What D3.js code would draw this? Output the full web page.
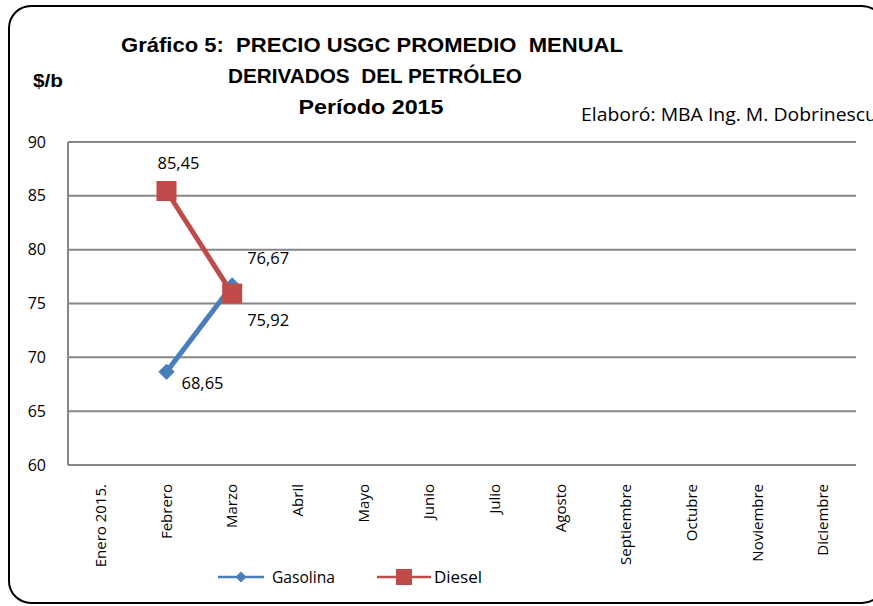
<!DOCTYPE html>
<html>
<head>
<meta charset="utf-8">
<script src="https://cdn.jsdelivr.net/npm/d3@7"></script>
<style>
  body { margin: 0; background: #fff; }
  svg { font-family: "Open Sans", "DejaVu Sans", sans-serif; }
  text { white-space: pre; }
</style>
</head>
<body>
<div id="chart"></div>
<script>
// data
const months = ["Enero 2015.", "Febrero", "Marzo", "Abril", "Mayo", "Junio", "Julio",
                "Agosto", "Septiembre", "Octubre", "Noviembre", "Diciembre"]
const gasolina = [null, 68.65, 76.67, null, null, null, null, null, null, null, null, null]
const diesel = [null, 85.45, 75.92, null, null, null, null, null, null, null, null, null]
const yTicks = [60, 65, 70, 75, 80, 85, 90]
const titleLines = ["Gráfico 5:  PRECIO USGC PROMEDIO  MENUAL", "DERIVADOS  DEL PETRÓLEO", "Período 2015"]

const w = 873
const h = 606
const margin = { left: 68, right: 17, top: 142, bottom: 141 }
const font = "'Open Sans', 'DejaVu Sans', sans-serif"

const svg = d3.select("#chart").append("svg")
  .attr("width", w)
  .attr("height", h)

// outer rounded frame
svg.append("rect")
  .attr("x", 9).attr("y", 6)
  .attr("width", 875).attr("height", 597)
  .attr("rx", 22)
  .attr("fill", "none")
  .attr("stroke", "#000")
  .attr("stroke-width", 2)

const xScale = d3.scaleBand()
  .domain(months)
  .range([margin.left, w - margin.right])

const yScale = d3.scaleLinear()
  .domain([60, 90])
  .range([h - margin.bottom, margin.top])

// horizontal grid lines
svg.append("g")
  .selectAll("line")
  .data(yTicks)
  .enter()
  .append("line")
  .attr("x1", margin.left)
  .attr("x2", w - margin.right)
  .attr("y1", d => yScale(d))
  .attr("y2", d => yScale(d))
  .attr("stroke", "#868686")
  .attr("stroke-width", 2)

// left axis line
svg.append("line")
  .attr("x1", margin.left).attr("x2", margin.left)
  .attr("y1", yScale(90)).attr("y2", yScale(60))
  .attr("stroke", "#868686")
  .attr("stroke-width", 2)

// y tick labels
const yAxis = d3.axisLeft(yScale).tickValues(yTicks).tickSize(0).tickPadding(22)
const yg = svg.append("g")
  .attr("transform", "translate(" + margin.left + ",0)")
  .call(yAxis)
yg.select(".domain").remove()
yg.selectAll("text")
  .attr("font-size", 16)
  .attr("fill", "#000")
  .attr("font-family", font)

// x labels, rotated
const xAxis = d3.axisBottom(xScale).tickSize(0).tickPadding(0)
const xg = svg.append("g")
  .attr("transform", "translate(0," + (h - margin.bottom) + ")")
  .call(xAxis)
xg.select(".domain").remove()
xg.selectAll("text")
  .attr("transform", "translate(5,19) rotate(-90)")
  .attr("text-anchor", "end")
  .attr("dy", "0")
  .attr("x", 0).attr("y", 0)
  .attr("font-size", 15)
  .attr("fill", "#000")
  .attr("font-family", font)

const series = [
  { name: "Gasolina", values: gasolina, color: "#4a7ebb", marker: "diamond" },
  { name: "Diesel", values: diesel, color: "#be4b48", marker: "square" }
]

const cx = (d, i) => xScale(months[i]) + xScale.bandwidth() / 2

const line = d3.line()
  .defined(d => d != null)
  .x((d, i) => cx(d, i))
  .y(d => yScale(d))

series.forEach(s => {
  svg.append("path")
    .datum(s.values)
    .attr("d", line)
    .attr("fill", "none")
    .attr("stroke", s.color)
    .attr("stroke-width", 5)
})

function drawMarker(g, type, x, y, color) {
  if (type === "diamond") {
    g.append("path")
      .attr("d", d3.symbol(d3.symbolDiamond2, 170)())
      .attr("transform", "translate(" + x + "," + y + ")")
      .attr("fill", color)
  } else {
    g.append("rect")
      .attr("x", x - 10).attr("y", y - 10)
      .attr("width", 20).attr("height", 20)
      .attr("fill", color)
  }
}

const markers = svg.append("g")
series.forEach(s => {
  s.values.forEach((v, i) => {
    if (v == null) return
    drawMarker(markers, s.marker, cx(v, i), yScale(v), s.color)
  })
})

// data labels: offsets per point
const fmt = v => v.toFixed(2).replace(".", ",")
const labelOffsets = {
  Gasolina: { 1: [15, 17], 2: [15, -22] },
  Diesel: { 1: [-9, -22], 2: [15, 32] }
}
series.forEach(s => {
  s.values.forEach((v, i) => {
    if (v == null) return
    const off = labelOffsets[s.name][i]
    svg.append("text")
      .attr("x", cx(v, i) + off[0])
      .attr("y", yScale(v) + off[1])
      .attr("font-size", 16.5)
      .attr("font-family", font)
      .attr("fill", "#000")
      .text(fmt(v))
  })
})

// titles
const titleX = [372, 375, 371]
const titleY = [52, 83, 114]
const titleW = [502, 294, 145]
titleLines.forEach((t, i) => {
  svg.append("text")
    .attr("x", titleX[i])
    .attr("y", titleY[i])
    .attr("text-anchor", "middle")
    .attr("font-size", 20)
    .attr("font-weight", "bold")
    .attr("font-family", "'Liberation Sans Narrow', 'Liberation Sans', sans-serif")
    .attr("textLength", titleW[i])
    .attr("lengthAdjust", "spacingAndGlyphs")
    .text(t)
})

svg.append("text")
  .attr("x", 33).attr("y", 87)
  .attr("font-size", 19)
  .attr("font-weight", "bold")
  .attr("font-family", "'Liberation Sans Narrow', 'Liberation Sans', sans-serif")
  .attr("textLength", 30)
  .attr("lengthAdjust", "spacingAndGlyphs")
  .text("$/b")

svg.append("text")
  .attr("x", 581).attr("y", 121)
  .attr("font-size", 18)
  .attr("font-weight", "normal")
  .attr("font-family", font)
  .attr("textLength", 296)
  .attr("lengthAdjust", "spacingAndGlyphs")
  .text("Elaboró: MBA Ing. M. Dobrinescu")

// legend
const legend = svg.append("g")
const legendItems = [
  { s: series[0], x0: 218, x1: 264, tx: 272, tw: 63 },
  { s: series[1], x0: 377, x1: 431, tx: 434, tw: 48 }
]
const ly = 577
legendItems.forEach(li => {
  legend.append("line")
    .attr("x1", li.x0).attr("x2", li.x1)
    .attr("y1", ly).attr("y2", ly)
    .attr("stroke", li.s.color)
    .attr("stroke-width", 2.5)
  const mx = (li.x0 + li.x1) / 2
  if (li.s.marker === "diamond") {
    legend.append("path")
      .attr("d", d3.symbol(d3.symbolDiamond2, 80)())
      .attr("transform", "translate(" + mx + "," + ly + ")")
      .attr("fill", li.s.color)
  } else {
    legend.append("rect")
      .attr("x", mx - 8).attr("y", ly - 8)
      .attr("width", 16).attr("height", 16)
      .attr("fill", li.s.color)
  }
  legend.append("text")
    .attr("x", li.tx).attr("y", ly + 6)
    .attr("font-size", 16)
    .attr("font-family", font)
    .attr("textLength", li.tw)
    .attr("lengthAdjust", "spacingAndGlyphs")
    .text(li.s.name)
})
</script>
</body>
</html>
